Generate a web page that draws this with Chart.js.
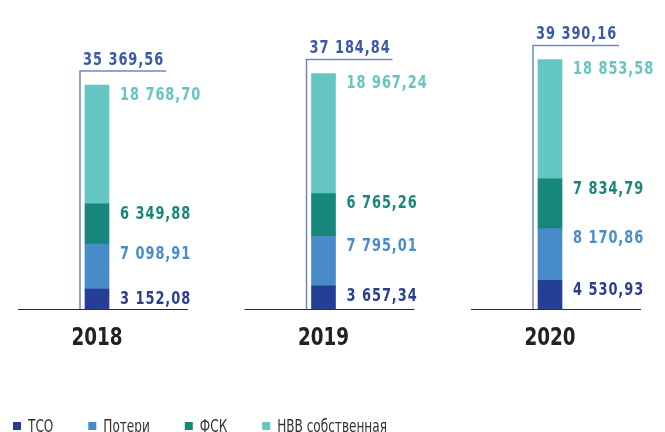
<!DOCTYPE html>
<html>
<head>
<meta charset="utf-8">
<script src="https://cdn.jsdelivr.net/npm/chart.js@4/dist/chart.umd.min.js"></script>
<style>
  html, body { margin: 0; padding: 0; background: #fff; overflow: hidden; }
  canvas { display: block; }
</style>
</head>
<body>
<canvas id="chart" width="665" height="432"></canvas>
<script>
const years = ['2018', '2019', '2020'];
const tso = [3152.08, 3657.34, 4530.93];
const poteri = [7098.91, 7795.01, 8170.86];
const fsk = [6349.88, 6765.26, 7834.79];
const nvv = [18768.70, 18967.24, 18853.58];
const totals = [35369.56, 37184.84, 39390.16];
const seriesNames = ['ТСО', 'Потери', 'ФСК', 'НВВ собственная'];

const colors = ['#263f96', '#488bc9', '#17877b', '#64c6c3'];
const labelColors = ['#2a3f91', '#4a8bc9', '#17877b', '#64c6c3'];
const FONT = "'DejaVu Sans Condensed', 'DejaVu Sans', sans-serif";

// 35369.56 -> "35 369,56"
function fmt(v) {
  const parts = v.toFixed(2).split('.');
  return parts[0].replace(/\B(?=(\d{3})+(?!\d))/g, ' ') + ',' + parts[1];
}

// no condensed face installed, so squeeze the text horizontally
function squeezeText(ctx, text, x, y, sx) {
  ctx.save();
  ctx.translate(x, y);
  ctx.scale(sx, 1);
  ctx.fillText(text, 0, 0);
  ctx.restore();
}

const decorPlugin = {
  id: 'decor',
  beforeDatasetsDraw(chart) {
    const ctx = chart.ctx;
    const bottom = chart.chartArea.bottom;
    const top = chart.getDatasetMeta(3);
    ctx.save();
    years.forEach((y, i) => {
      const bar = top.data[i];
      const left = bar.x - bar.width / 2;
      // baseline under each group
      ctx.strokeStyle = '#2b2b2b';
      ctx.lineWidth = 1.2;
      ctx.beginPath();
      ctx.moveTo(bar.x - 79, bottom + 0.5);
      ctx.lineTo(bar.x + 91, bottom + 0.5);
      ctx.stroke();
      // bracket for total
      const ty = bar.y - 14;
      ctx.strokeStyle = '#6f87c6';
      ctx.lineWidth = 1.5;
      ctx.beginPath();
      ctx.moveTo(left - 5, bottom);
      ctx.lineTo(left - 5, ty);
      ctx.lineTo(left + 81, ty);
      ctx.stroke();
    });
    ctx.restore();
  },
  afterDatasetsDraw(chart) {
    const ctx = chart.ctx;
    const bottom = chart.chartArea.bottom;
    ctx.save();
    ctx.textAlign = 'left';
    ctx.textBaseline = 'middle';
    ctx.font = 'bold 18px ' + FONT;
    ctx.letterSpacing = '1.2px';
    chart.data.datasets.forEach((ds, d) => {
      const meta = chart.getDatasetMeta(d);
      meta.data.forEach((bar, i) => {
        ctx.fillStyle = labelColors[d];
        squeezeText(ctx, fmt(ds.data[i]), bar.x + bar.width / 2 + 11, bar.y + 10, 0.8);
      });
    });
    // totals
    const topMeta = chart.getDatasetMeta(3);
    topMeta.data.forEach((bar, i) => {
      const left = bar.x - bar.width / 2;
      ctx.fillStyle = '#3b59a6';
      squeezeText(ctx, fmt(totals[i]), left - 2, bar.y - 25, 0.8);
    });
    // year labels
    ctx.textAlign = 'center';
    ctx.font = 'bold 24px ' + FONT;
    ctx.letterSpacing = '0px';
    ctx.fillStyle = '#222222';
    years.forEach((y, i) => {
      const x = chart.scales.x.getPixelForValue(i);
      squeezeText(ctx, y, x, bottom + 30, 0.85);
    });
    // legend
    ctx.textAlign = 'left';
    ctx.textBaseline = 'alphabetic';
    ctx.font = '17px ' + FONT;
    const sx = 0.79;
    let x = 13;
    chart.data.datasets.forEach((ds, d) => {
      ctx.fillStyle = ds.backgroundColor;
      ctx.fillRect(x, 422, 8, 8);
      ctx.fillStyle = '#333333';
      squeezeText(ctx, ds.label, x + 15, 432, sx);
      x += 15 + ctx.measureText(ds.label).width * sx + 35;
    });
    ctx.restore();
  }
};

const seriesData = [tso, poteri, fsk, nvv];

new Chart(document.getElementById('chart'), {
  type: 'bar',
  data: {
    labels: years,
    datasets: seriesData.map((vals, d) => ({
      label: seriesNames[d],
      data: vals,
      backgroundColor: colors[d],
      borderWidth: 0,
      barThickness: 24,
      clip: false
    }))
  },
  options: {
    responsive: false,
    animation: false,
    layout: { padding: { left: 97, right: 115, top: 24, bottom: 123 } },
    plugins: {
      legend: { display: false },
      tooltip: { enabled: false }
    },
    scales: {
      x: { stacked: true, offset: false, display: false },
      y: { stacked: true, min: 0, max: 45000, display: false }
    }
  },
  plugins: [decorPlugin]
});
</script>
</body>
</html>
